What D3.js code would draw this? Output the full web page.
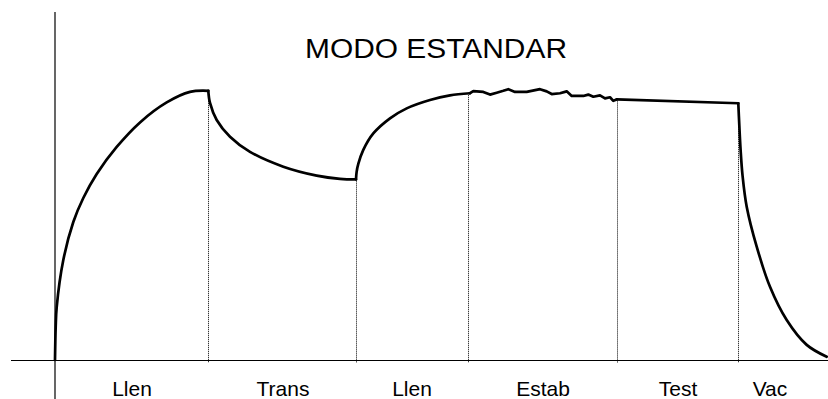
<!DOCTYPE html>
<html>
<head>
<meta charset="utf-8">
<script src="https://cdn.jsdelivr.net/npm/d3@7"></script>
<style>
  html, body { margin: 0; padding: 0; background: #fff; }
  svg { display: block; font-family: "Liberation Sans", Arial, sans-serif; }
</style>
</head>
<body>
<svg id="chart"></svg>
<script>
// phase names and boundaries (time units), label anchor for each phase
const phases = ['Llen', 'Trans', 'Llen', 'Estab', 'Test', 'Vac'];
const bounds = [0, 153, 301, 413, 562, 683, 773];
const labelAt = [77, 228, 357, 488, 623, 715];

// pressure trace, one array per phase (t, p)
const llen1 = [[0, 0], [0.7, 12.2], [1.7, 19.6], [8.3, 37], [18.3, 51.1], [28.3, 60], [41.7, 68.9],
  [61.7, 78.9], [85, 88], [111.7, 95.4], [135, 99.3], [153.3, 99.7]];
const trans = [[153.3, 99.7], [155, 95.2], [161.7, 88.9], [175, 82.7], [195, 77.1], [228.3, 71.6],
  [261.7, 68.3], [285, 67.1], [301, 66.9]];
const llen2 = [[301, 66.9], [301.6, 69.6], [303.3, 72.6], [308.3, 77.8], [318.3, 83.9], [335, 89.5],
  [351.7, 93.2], [375, 96.3], [395, 98], [415, 98.8]];
const estab = [[415, 98.8], [418.3, 99.6], [428.3, 99.3], [435, 98.3], [441.7, 99], [448.3, 99.7],
  [453.3, 100.3], [460, 99.3], [471.7, 99.3], [485, 100.3], [491.7, 99.5], [496.7, 98.5], [505, 98.8],
  [511.7, 99.5], [516.7, 97.8], [528.3, 97.8], [533.3, 98.3], [538.3, 97.5], [545, 98], [550, 96.9],
  [555, 97.3], [558.3, 96], [561.7, 96.5]];
const test = [[561.7, 96.5], [683.3, 95.1]];
const vac = [[683.3, 95.1], [684.3, 87], [685.6, 77.8], [687.5, 68.5], [691.7, 56.8], [701.7, 42],
  [715, 27.1], [731.7, 14.8], [751.7, 5.6], [771.7, 1.2]];

const width = 828, height = 399;
const svg = d3.select('#chart').attr('width', width).attr('height', height);

const x = d3.scaleLinear().domain([0, 773]).range([55, 828]);
const y = d3.scaleLinear().domain([0, 100]).range([360, 90]);

// all points, used to find the trace value at each boundary
const all = [].concat(llen1, trans, llen2, estab, test, vac);
const valueAt = t => {
  let best = all[0];
  all.forEach(d => { if (Math.abs(d[0] - t) < Math.abs(best[0] - t)) best = d; });
  return best[1];
};

// dotted phase separators
svg.append('g')
  .selectAll('line')
  .data(bounds.slice(1, -1))
  .enter()
  .append('line')
  .attr('x1', d => Math.round(x(d)) + 0.5)
  .attr('x2', d => Math.round(x(d)) + 0.5)
  .attr('y1', d => y(valueAt(d)) + 2)
  .attr('y2', y(0) + 3)
  .attr('stroke', '#000')
  .attr('stroke-width', 1)
  .attr('stroke-dasharray', '1,1');

// axes
svg.append('line')
  .attr('x1', 11).attr('x2', 828)
  .attr('y1', y(0) + 0.5).attr('y2', y(0) + 0.5)
  .attr('stroke', '#000').attr('stroke-width', 1.2);
svg.append('line')
  .attr('x1', x(0)).attr('x2', x(0))
  .attr('y1', 12).attr('y2', height)
  .attr('stroke', '#000').attr('stroke-width', 1.2);

// trace
const smooth = d3.line().x(d => x(d[0])).y(d => y(d[1])).curve(d3.curveCatmullRom.alpha(0.5));
const straight = d3.line().x(d => x(d[0])).y(d => y(d[1]));

const traces = [
  { pts: llen1, line: smooth },
  { pts: trans, line: smooth },
  { pts: llen2, line: smooth },
  { pts: estab, line: straight },
  { pts: test, line: straight },
  { pts: vac, line: smooth }
];

svg.append('g')
  .selectAll('path')
  .data(traces)
  .enter()
  .append('path')
  .attr('d', d => d.line(d.pts))
  .attr('fill', 'none')
  .attr('stroke', '#000')
  .attr('stroke-width', 2.7)
  .attr('stroke-linejoin', 'round')
  .attr('stroke-linecap', 'round');

// phase labels
svg.append('g')
  .selectAll('text')
  .data(phases)
  .enter()
  .append('text')
  .attr('x', (d, i) => x(labelAt[i]))
  .attr('y', 396)
  .attr('text-anchor', 'middle')
  .style('font-size', '21px')
  .text(d => d);

// title
svg.append('text')
  .attr('x', 436)
  .attr('y', 58)
  .attr('text-anchor', 'middle')
  .attr('textLength', 262)
  .attr('lengthAdjust', 'spacingAndGlyphs')
  .style('font-size', '27px')
  .text('MODO ESTANDAR');
</script>
</body>
</html>
